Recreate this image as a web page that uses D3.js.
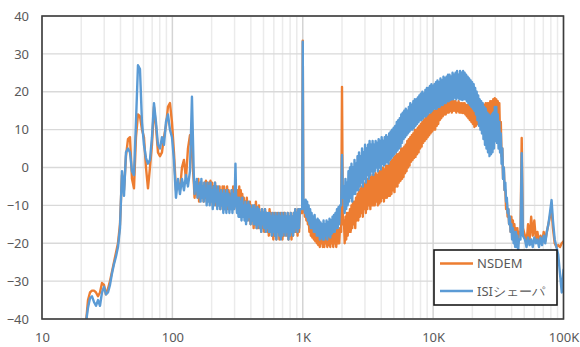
<!DOCTYPE html>
<html>
<head>
<meta charset="utf-8">
<script src="https://cdn.jsdelivr.net/npm/d3@7"></script>
<style>
  body { margin: 0; background: #fff; }
  svg { display: block; font-family: "Noto Sans", sans-serif; }
</style>
</head>
<body>
<div id="chart"></div>
<script>
const seriesNames = ['NSDEM', 'ISIシェーパ'];
const seriesColors = ['#ED7D31', '#5B9BD5'];
const yTicks = [-40, -30, -20, -10, 0, 10, 20, 30, 40];
const xTicks = [10, 100, 1000, 10000, 100000];
const xTickLabels = ['10', '100', '1K', '10K', '100K'];

// frequency spans (Hz); readings inside a span are evenly spaced on the log axis
const bassSpan = [21.75, 141.3];
const midSpan = [146, 950];
const upperMidSpan = [1025, 1930];
const trebleSpan = [2070, 45500];
const highSpan = [50600, 78700];
const topSpan = [83000, 100000];

// NSDEM readings (dB)
const nsdemBass = [-41, -35, -33, -32.5, -32.5, -33, -34, -33, -30.5, -31,
  -33.5, -32, -30, -27.5, -25, -22.5, -20, -15, -2, -6,
  3, 7.5, 8, -3, -5.5, 8, 14, 13.5, 10, 8,
  0, -5.5, 0, 6, 16, 11, 4, 3, 4, 8,
  11, 16, 17, 12, 4, -6, -4, -6, 0, 2,
  -3, 5, 8.5, 4];
const nsdemMid = [
  -4, -8, -5, -7, -4, -8, -3, -9, -5, -8, -4, -7, -5, -9, -4, -8, -3.5, -9, -4, -8,
  -4, -9, -3.5, -8, -4, -10, -5, -9, -4, -10, -5, -9, -6, -10, -5, -11, -6, -10, -5, -11,
  -5, -11, -6, -10, -5, -11, -6, -10, -7, -11, -6, -9, -5, -11, -7, -5, -8, -11, -6, -12,
  -5, -12, -6, -13, -7, -13, -8, -12, -9, -14, -8, -13, -10, -14, -9, -15, -10, -14, -11, -16,
  -10, -15, -9, -16, -11, -16, -10, -15, -12, -17, -11, -16, -12, -17, -11, -16, -12, -17, -13, -18,
  -11, -17, -12, -18, -13, -19, -12, -18, -13, -19, -12, -17, -13, -19, -12, -18, -13, -19, -12, -18,
  -12, -17, -13, -18, -12, -19, -13, -18, -12, -19, -13, -18, -12, -17, -11, -17, -12, -18, -11, -17, -12];
const nsdemUpperMid = [
  -10, -13, -10.5, -14, -12, -15, -13, -17, -14, -18,
  -15, -18.5, -15, -19, -16, -19.5, -16, -20, -17, -20.5,
  -16.5, -21, -17, -20, -16, -21, -17, -21, -16.5, -20,
  -17, -21, -16, -20.5, -17, -21, -16, -20, -16.5, -21,
  -16, -20, -17, -21, -16, -20, -16.5, -20, -16];
const nsdemTreble = [
  -14, -20, -13, -19, -12, -18, -12, -17, -11, -17, -10, -16, -9, -15, -9, -16, -8, -14, -7, -14,
  -6, -13, -5.5, -12, -5, -13, -4, -11, -4.5, -12, -3.5, -11, -3, -10, -3.5, -11, -2.5, -10, -2, -10,
  -2, -10, -1.5, -9, -2, -10, -1, -9.5, -1, -9, -0.5, -8, 0, -9, -0.5, -8, 0.5, -8, 0.5, -7.5,
  1, -7.5, 1.5, -7, 2, -6, 2.5, -6.5, 3, -5, 3.5, -5, 3.5, -4, 4, -3.5, 5, -3, 5, -2.5,
  5.5, -1.5, 6, -1, 7, 0, 7.5, 0.5, 8, 1.5, 8.5, 2, 9, 2.5, 9.9, 2.8, 10, 3.5, 10.5, 4,
  11, 5, 11.5, 5.5, 12, 6.5, 12.5, 7, 13, 7.5, 13.5, 8, 14, 8.5, 14, 9, 14.5, 9.5, 15, 10,
  15, 10, 15.5, 11, 16, 11.5, 16.5, 12.5, 16.5, 13, 17, 13.5, 17, 14, 17.5, 14, 17.5, 14.5, 17.8, 14.5,
  17.8, 15, 17.5, 14.5, 17.8, 15, 17.5, 15, 17.5, 14.5, 17, 15, 17.5, 14.5, 17, 14.5, 17, 14.4, 17, 14.4,
  17, 14, 16.5, 13.5, 16.5, 13, 16.5, 12.5, 16, 12, 16.5, 11.5, 16, 10.7, 16, 11, 16, 11.5, 16, 11.7,
  16, 11.7, 16.5, 11.5, 16.5, 11, 16.5, 10.5, 17, 10.5, 17, 10, 17, 9.9, 17.5, 10.5, 17.5, 11, 18, 11.5,
  18.3, 12, 18, 11, 17.5, 9, 17, 8, 12, 3, 5, -3, 0, -6, -6, -11, -9, -13, -11, -15,
  -13, -17, -13, -17.3, -14, -18, -15, -19, -16, -20, -16, -20, -17];
const nsdemHigh = [-18, -20, -15, -19, -13, -18, -14, -19, -17, -20, -18, -20, -17, -19.5, -17, -15, -13];
const nsdemTop = [-16, -20, -21, -20.5, -21, -20, -19.5];
const nsdemSpikes = [[990, -12], [1000, 33.5], [1010, -10],
  [1970, -17], [2000, 21.3], [2030, -15],
  [46800, -17], [47800, 7.8], [48800, -16],
  [81000, -11]];

// ISI shaper readings (dB)
const isiBass = [-41, -37, -34.5, -34, -35.5, -36.5, -35, -36.5, -33, -31.5,
  -33.5, -33, -31, -28, -25.5, -23.5, -21, -16, -1, -7.5,
  4, 5, 4, -1, -2, 12, 27, 26, 12, 6,
  2.5, 1, 2, 8, 17, 12, 6, 5, 8, 6,
  12, 14, 10, 8, 2, -8, -3, -7, -3, -6,
  -2, -5, -1, 18.7];
const isiMid = [
  -2, -7, -4, -6, -3, -8, -5, -7, -4, -9, -3, -8, -5, -9, -4, -7, -6, -10, -4, -9,
  -5, -10, -4, -9, -6, -11, -5, -10, -4, -9, -6, -11, -5, -10, -7, -11, -6, -10, -7, -12,
  -6, -11, -7, -12, -6, -10, -7, -12, -8, -11, -6, -12, -7, -11, -8, 1, -9, -12, -8, -13,
  -8, -13, -9, -14, -8, -13, -10, -14, -9, -15, -10, -14, -9, -13, -10, -15, -11, -14, -10, -15,
  -10, -15, -11, -16, -10.5, -15, -11, -16, -12, -17, -11, -15, -12, -16, -11, -17, -12, -16, -12, -17,
  -12, -17, -13, -18, -12, -17, -13, -18, -12, -19, -13, -17, -12, -18, -13, -19, -12, -18, -13, -17,
  -12, -18, -13, -17, -12, -19, -13, -18, -12, -17, -13, -18, -12, -17, -11, -16, -12, -17, -11, -16, -11];
const isiUpperMid = [
  -9, -12, -8.5, -13, -9, -14, -10, -15, -11, -16,
  -12, -16, -13, -17, -12.5, -17, -14, -18, -13.5, -18,
  -14, -19, -14.5, -18.5, -15, -19, -14, -19, -15, -18,
  -14, -19, -14.5, -18, -13.5, -18.5, -14, -17.5, -13, -17,
  -12.5, -17, -12, -16, -11, -16, -10.5, -15, -10];
const isiTreble = [
  -5, -12, -3, -11, -4, -10, -1, -9, 0, -8, 1, -9, 0, -7, 2, -7, 1, -6, 3, -6,
  4, -5, 3, -4, 5, -5, 4, -3, 6, -4, 5, -2, 6, -3, 7, -2, 6, -1, 7, -2,
  6, -1, 7, 0, 6.5, -1, 7.5, 0, 7, -0.5, 8, 1, 7, 0.5, 8, 1, 8.5, 1.5, 8, 1,
  9, 2, 9.5, 2.5, 10, 3, 10.5, 3.5, 11, 4, 12, 4.5, 12.5, 5, 13, 5.5, 14, 6.5, 14.5, 7.5,
  15, 8, 15.5, 8.5, 15, 9, 16, 9.5, 17, 10, 16.5, 10, 17.5, 10.5, 18, 11, 18, 11.5, 18.5, 12,
  19, 12.5, 19.5, 12.5, 20, 13, 19.5, 13.5, 20.5, 13.5, 21, 14, 21, 14.5, 21.5, 14.5, 22, 15, 21.5, 15.5,
  22, 15.5, 22.5, 15.5, 23, 16, 22.5, 16, 23.5, 16.5, 23, 16.5, 24, 17, 23.5, 17, 24, 17.5, 24.5, 17.5,
  24.5, 17.8, 24, 18, 25, 18, 24.5, 18.5, 25, 18, 25.5, 18.5, 24.5, 18, 25.5, 18, 25, 17.8, 25.5, 18,
  25, 18, 24.5, 17.5, 24, 17, 23.5, 16.5, 23, 16, 22.5, 15.5, 22, 15, 21, 14, 20, 12.5, 19, 11,
  18, 10, 17.5, 9, 17, 7.5, 16, 6, 15.5, 5, 14.5, 4, 14, 3, 13.5, 3.5, 14, 4, 14.5, 5,
  16, 7, 16, 6.5, 14, 5, 12, 4, 9, 1, 5, -3, 0, -6, -4, -9, -8, -12, -11, -15,
  -13, -17, -15, -19, -16, -20, -17, -21, -17, -21, -18, -22, -19];
const isiHigh = [-19, -21, -18.5, -20.5, -19, -21, -18.5, -20, -19, -21, -18.5, -20.5, -18, -20, -17, -15, -12];
const isiTop = [-14, -19, -21, -23, -28, -33, -27];
const isiSpikes = [[990, -11], [1000, 33.2], [1010, -9],
  [1970, -10], [2000, 3.3], [2030, -8],
  [46800, -19], [47800, 3.8], [48800, -18],
  [81000, -8.6]];

// place a run of readings across its span
function run(span, vals) {
  const [a, b] = span;
  return vals.map((v, i) => [a * Math.pow(b / a, i / (vals.length - 1)), v]);
}

function buildSeries(runs, spikes) {
  const pts = [];
  runs.forEach(([span, vals]) => pts.push(...run(span, vals)));
  pts.push(...spikes);
  return pts.sort((p, q) => p[0] - q[0]);
}

const series = [
  buildSeries([[bassSpan, nsdemBass], [midSpan, nsdemMid], [upperMidSpan, nsdemUpperMid],
    [trebleSpan, nsdemTreble], [highSpan, nsdemHigh], [topSpan, nsdemTop]], nsdemSpikes),
  buildSeries([[bassSpan, isiBass], [midSpan, isiMid], [upperMidSpan, isiUpperMid],
    [trebleSpan, isiTreble], [highSpan, isiHigh], [topSpan, isiTop]], isiSpikes),
];

const W = 580, H = 347;
const margin = { top: 16, right: 16.5, bottom: 28, left: 42 };
const iw = W - margin.left - margin.right;
const ih = H - margin.top - margin.bottom;

const svg = d3.select('#chart').append('svg')
  .attr('width', W).attr('height', H);

const x = d3.scaleLog().domain([10, 100000]).range([0, iw]);
const y = d3.scaleLinear().domain([-40, 40]).range([ih, 0]);

const g = svg.append('g').attr('transform', `translate(${margin.left},${margin.top})`);

svg.append('defs').append('clipPath').attr('id', 'plotClip')
  .append('rect').attr('width', iw).attr('height', ih);

const isDecade = t => Math.abs(Math.log10(t) - Math.round(Math.log10(t))) < 1e-9;
const minorTicks = x.ticks().filter(t => !isDecade(t));

// minor vertical grid
g.append('g').selectAll('line').data(minorTicks).join('line')
  .attr('x1', d => x(d)).attr('x2', d => x(d))
  .attr('y1', 0).attr('y2', ih)
  .attr('stroke', '#ebebeb').attr('stroke-width', 1.5);

// horizontal grid
g.append('g').selectAll('line').data(yTicks).join('line')
  .attr('x1', 0).attr('x2', iw)
  .attr('y1', d => y(d)).attr('y2', d => y(d))
  .attr('stroke', '#d9d9d9').attr('stroke-width', 1.3);

// major vertical grid
g.append('g').selectAll('line').data(xTicks).join('line')
  .attr('x1', d => x(d)).attr('x2', d => x(d))
  .attr('y1', 0).attr('y2', ih)
  .attr('stroke', '#d4d4d4').attr('stroke-width', 1.5);

// traces
const line = d3.line().x(d => x(d[0])).y(d => y(d[1]));
g.append('g').attr('clip-path', 'url(#plotClip)')
  .selectAll('path').data(series).join('path')
  .attr('d', line)
  .attr('fill', 'none')
  .attr('stroke', (d, i) => seriesColors[i])
  .attr('stroke-width', 2.4)
  .attr('stroke-linejoin', 'round')
  .attr('stroke-linecap', 'round');

// plot border
g.append('rect').attr('width', iw).attr('height', ih)
  .attr('fill', 'none').attr('stroke', '#3c3c3c').attr('stroke-width', 1.6);

// axes
g.append('g')
  .call(d3.axisLeft(y).tickValues(yTicks).tickSize(0).tickPadding(13))
  .call(a => a.select('.domain').remove())
  .call(a => a.selectAll('text').attr('fill', '#595959')
    .attr('font-size', 13).attr('font-family', '"Noto Sans", sans-serif'));

g.append('g').attr('transform', `translate(0,${ih})`)
  .call(d3.axisBottom(x).tickValues(xTicks).tickSize(0).tickPadding(14)
    .tickFormat((d, i) => xTickLabels[i]))
  .call(a => a.select('.domain').remove())
  .call(a => a.selectAll('text').attr('fill', '#595959')
    .attr('font-size', 13).attr('font-family', '"Noto Sans", sans-serif'));

// legend
const legend = svg.append('g').attr('transform', 'translate(434,250)');
legend.append('rect').attr('width', 123).attr('height', 55)
  .attr('fill', '#fff').attr('stroke', '#1a1a1a').attr('stroke-width', 1.6);
seriesNames.forEach((name, i) => {
  const row = legend.append('g').attr('transform', `translate(0,${13.5 + i * 27.5})`);
  row.append('line').attr('x1', 6).attr('x2', 39)
    .attr('stroke', seriesColors[i]).attr('stroke-width', 2.4);
  row.append('text').attr('x', 43).attr('dy', '0.35em')
    .attr('font-size', 13).attr('fill', '#595959').text(name);
});
</script>
</body>
</html>
